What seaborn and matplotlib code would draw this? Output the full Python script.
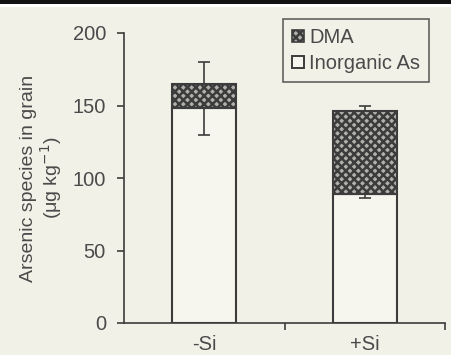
import matplotlib
matplotlib.use("Agg")
import matplotlib.pyplot as plt
from matplotlib.patches import Patch, Rectangle
import seaborn as sns
import pandas as pd
import numpy as np

categories = ["-Si", "+Si"]
inorganic_as = [148, 89]
dma = [17, 57]
err_low = [130, 86.5]
err_high = [180, 150]
legend_labels = ["DMA", "Inorganic As"]
y_ticks = [0, 50, 100, 150, 200]

sns.set_theme(style="ticks")
plt.rcParams["font.family"] = ["Liberation Sans", "DejaVu Sans"]
plt.rcParams["hatch.linewidth"] = 1.8

bg = "#f2f1e8"
dark = "#3c3c3c"
txt = "#4a4a4a"
hatch_face = "#b0b0ac"

df = pd.DataFrame({"cond": categories, "inorg": inorganic_as, "dma": dma})

fig = plt.figure(figsize=(4.51, 3.55), dpi=100, facecolor=bg)
ax = fig.add_axes([124 / 451, 1 - 323 / 355, (445 - 124) / 451, (323 - 33) / 355])
ax.set_facecolor("none")

# inorganic (open) bars
sns.barplot(data=df, x="cond", y="inorg", order=categories, color="#f6f5ee",
            saturation=1, width=0.4, edgecolor=dark, linewidth=1.5, ax=ax, zorder=2)
# error bars
centers = np.arange(len(categories))
mid = [(l + h) / 2 for l, h in zip(err_low, err_high)]
half = [(h - l) / 2 for l, h in zip(err_low, err_high)]
ax.errorbar(centers, mid, yerr=half, fmt="none", ecolor=dark, elinewidth=1.2,
            capsize=4, capthick=1.2, zorder=3)
# DMA hatched bars stacked
sns.barplot(data=df, x="cond", y="dma", order=categories, color=hatch_face,
            saturation=1, width=0.4, edgecolor=dark, linewidth=1.5, hatch="xxxx",
            bottom=df["inorg"].values, ax=ax, zorder=4)

ax.set_ylim(0, 200)
ax.set_xlim(-0.5, 1.5)
ax.set_yticks(y_ticks)
ax.set_yticklabels([str(t) for t in y_ticks], color=txt, fontsize=14.5)
ax.set_xticks(centers)
ax.set_xticklabels(categories, color=txt, fontsize=14.5)
ax.set_xticks([0.5, 1.5], minor=True)
ax.tick_params(axis="x", which="major", length=0, pad=9)
ax.tick_params(axis="x", which="minor", length=5, width=1.2, color=dark, direction="out")
ax.tick_params(axis="y", length=5, width=1.2, color=dark, pad=8)
for s in ["top", "right"]:
    ax.spines[s].set_visible(False)
for s in ["left", "bottom"]:
    ax.spines[s].set_color(dark)
    ax.spines[s].set_linewidth(1.2)
ax.set_xlabel("")
ax.set_ylabel("Arsenic species in grain\n(μg kg$^{-1}$)", color=txt, fontsize=14,
              linespacing=1.05, labelpad=6)

handles = [Patch(facecolor=hatch_face, edgecolor=dark, hatch="xxxx", linewidth=1.2),
           Patch(facecolor="#f6f5ee", edgecolor=dark, linewidth=1.4)]
leg = ax.legend(handles, legend_labels, loc="upper right", bbox_to_anchor=(0.95, 1.048),
                borderaxespad=0, frameon=True, fancybox=False, fontsize=14.5,
                handlelength=0.6, handleheight=0.6, handletextpad=0.25, borderpad=0.45,
                labelspacing=0.35, labelcolor=txt)
leg.get_frame().set_edgecolor(dark)
leg.get_frame().set_linewidth(1.2)
leg.get_frame().set_facecolor("none")

fig.patches.append(Rectangle((0, 1 - 4 / 355), 1, 4 / 355, transform=fig.transFigure,
                             facecolor="#111111", edgecolor="none", zorder=0))
fig.patches.append(Rectangle((0, 1 - 7 / 355), 1, 3 / 355, transform=fig.transFigure,
                             facecolor="white", edgecolor="none", zorder=0))

fig.savefig("out.png", dpi=100, facecolor=bg)
